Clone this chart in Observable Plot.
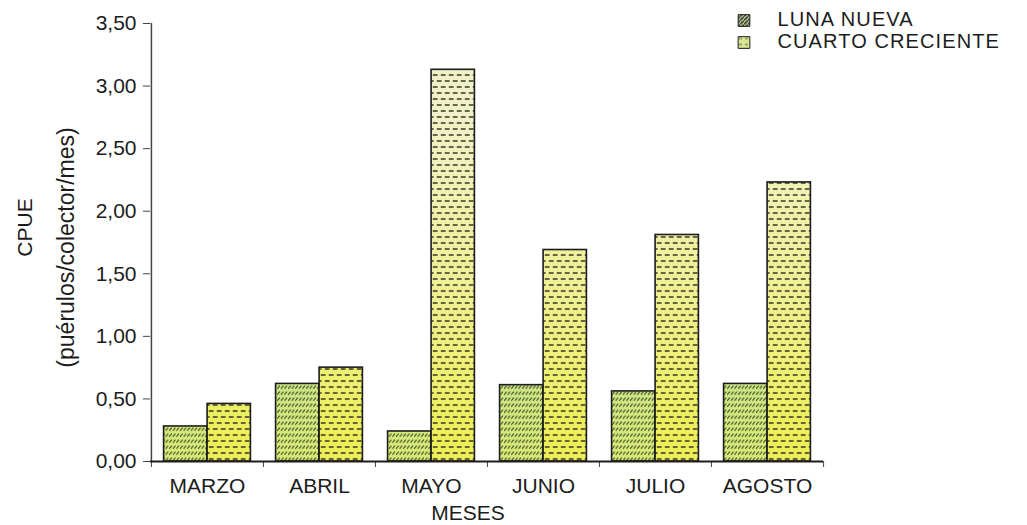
<!DOCTYPE html>
<html><head><meta charset="utf-8">
<script src="https://cdn.jsdelivr.net/npm/d3@7"></script>
<script src="https://cdn.jsdelivr.net/npm/@observablehq/plot@0.6"></script>
<style>
body{margin:0;background:#fff;}
svg{font-family:"Liberation Sans",Arial,sans-serif;}
</style>
</head><body><div id="chart"></div>
<script>
const months = ["MARZO", "ABRIL", "MAYO", "JUNIO", "JULIO", "AGOSTO"];
const seriesNames = ["LUNA NUEVA", "CUARTO CRECIENTE"];
const lunaNueva = [0.28, 0.62, 0.24, 0.61, 0.56, 0.62];
const cuartoCreciente = [0.46, 0.75, 3.13, 1.69, 1.81, 2.23];
const yTicks = [0, 0.5, 1, 1.5, 2, 2.5, 3, 3.5];
const yTitle = "CPUE";
const yTitle2 = "(puérulos/colector/mes)";
const xTitle = "MESES";

const dataLN = months.map((m, i) => ({month: m, value: lunaNueva[i]}));
const dataCC = months.map((m, i) => ({month: m, value: cuartoCreciente[i]}));

const W = 1027, H = 525, mL = 150, mR = 204, mT = 23, mB = 64;
const band = (W - mL - mR) / months.length;
const barW = 43.5;
const outer = (band - 2 * barW) / 2;
const fmt = d => d.toFixed(2).replace(".", ",");
const ink = "#1c1c1c";

const lnOpts = {x: "month", y: "value", insetLeft: outer, insetRight: band - outer - barW};
const ccOpts = {x: "month", y: "value", insetLeft: outer + barW, insetRight: outer};
const txt = {textAnchor: "middle", lineAnchor: "middle", fill: ink};

const plot = Plot.plot({
  width: W, height: H,
  marginLeft: mL, marginRight: mR, marginTop: mT, marginBottom: mB,
  style: {fontFamily: '"Liberation Sans", Arial, sans-serif', fontSize: "21px", color: ink, background: "#fff", overflow: "visible"},
  x: {domain: months, padding: 0, axis: null},
  y: {domain: [0, 3.5], axis: null},
  marks: [
    Plot.barY(dataLN, {...lnOpts, fill: "url(#gLN)"}),
    Plot.barY(dataLN, {...lnOpts, fill: "url(#pLN)", stroke: ink, strokeWidth: 1.6}),
    Plot.barY(dataCC, {...ccOpts, fill: "url(#gCC)"}),
    Plot.barY(dataCC, {...ccOpts, fill: "url(#pCC)", stroke: ink, strokeWidth: 1.6}),
    Plot.axisY({ticks: yTicks, tickFormat: fmt, tickSize: 7, tickPadding: 7, label: null, fontSize: 21, stroke: "#444"}),
    Plot.ruleX([months[0]], {dx: -band / 2, y1: 0, y2: 3.5, stroke: "#444", strokeWidth: 1.5}),
    Plot.axisX({tickSize: 6, dx: -band / 2, tickFormat: () => "", label: null, stroke: "#444"}),
    Plot.axisX({ticks: [months[months.length - 1]], tickSize: 6, dx: band / 2, tickFormat: () => "", label: null, stroke: "#444"}),
    Plot.ruleY([0], {stroke: ink, strokeWidth: 2}),
    Plot.axisX({tickSize: 0, tickPadding: 17, label: null, fontSize: 21}),
    Plot.text([xTitle], {...txt, frameAnchor: "bottom", dx: -19, dy: 52, fontSize: 21}),
    Plot.text([yTitle], {...txt, frameAnchor: "left", rotate: -90, dx: -125, dy: -15, fontSize: 21}),
    Plot.text([yTitle2], {...txt, frameAnchor: "left", rotate: -90, dx: -84, dy: 5, fontSize: 23}),
    Plot.dot([seriesNames[0]], {frameAnchor: "top-left", dx: 593.5, dy: -3, symbol: "square", r: 6.6, fill: "url(#pLNs)", stroke: ink, strokeWidth: 1}),
    Plot.dot([seriesNames[1]], {frameAnchor: "top-left", dx: 593.5, dy: 19, symbol: "square", r: 6.6, fill: "url(#pCCs)", stroke: ink, strokeWidth: 1}),
    Plot.text([seriesNames[0]], {...txt, frameAnchor: "top-left", dx: 627, dy: -3.7, textAnchor: "start", fontSize: 20}),
    Plot.text([seriesNames[1]], {...txt, frameAnchor: "top-left", dx: 627, dy: 18.3, textAnchor: "start", fontSize: 20})
  ]
});

d3.select(plot).selectAll("text")
  .filter(function() { return seriesNames.includes(this.textContent); })
  .attr("letter-spacing", "1.1px");

d3.select(plot).insert("defs", ":first-child").html(`
  <linearGradient id="gLN" gradientUnits="userSpaceOnUse" x1="0" y1="370" x2="0" y2="461">
    <stop offset="0" stop-color="#cbe388"/><stop offset="1" stop-color="#d8ea74"/>
  </linearGradient>
  <linearGradient id="gCC" gradientUnits="userSpaceOnUse" x1="0" y1="120" x2="0" y2="440">
    <stop offset="0" stop-color="#f1f1c8"/><stop offset="0.55" stop-color="#efef90"/><stop offset="1" stop-color="#eeee58"/>
  </linearGradient>
  <pattern id="pLN" patternUnits="userSpaceOnUse" width="3.6" height="6">
    <path d="M0,5 L2.6,1.6" stroke="#46522a" stroke-width="1.1" fill="none"/>
  </pattern>
  <pattern id="pCC" patternUnits="userSpaceOnUse" width="8" height="12">
    <path d="M0.8,3 L5.6,3 M4.8,9 L8,9 M0,9 L1.6,9" stroke="#383828" stroke-width="1.7" fill="none"/>
  </pattern>
  <pattern id="pLNs" patternUnits="userSpaceOnUse" width="4" height="4">
    <rect width="4" height="4" fill="#b8c890"/>
    <path d="M0,4 L4,0" stroke="#222" stroke-width="1.3"/>
  </pattern>
  <pattern id="pCCs" patternUnits="userSpaceOnUse" width="6" height="6">
    <rect width="6" height="6" fill="#d8e890"/>
    <path d="M1,2 L4,2" stroke="#555" stroke-width="1"/>
  </pattern>
`);

document.getElementById("chart").append(plot);
</script>
</body></html>
